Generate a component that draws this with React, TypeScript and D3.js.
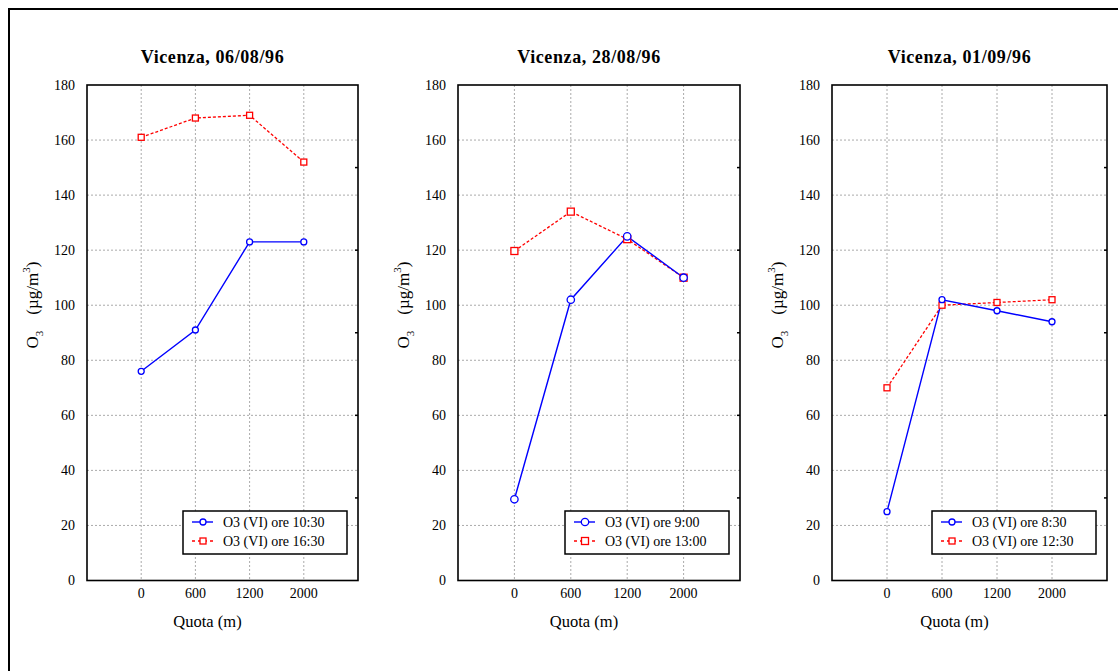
import React from 'react';
import * as d3 from 'd3';

// quote altimetriche (m) - categorie sull'asse x
const quote = ['0', '600', '1200', '2000'];
const yTicks = [0, 20, 40, 60, 80, 100, 120, 140, 160, 180];
const rightTicks = [30, 60, 90, 120, 150];

// O3 (µg/m3) per giornata
const titles = ['Vicenza, 06/08/96', 'Vicenza, 28/08/96', 'Vicenza, 01/09/96'];
const bluLabels = ['O3 (VI) ore 10:30', 'O3 (VI) ore 9:00', 'O3 (VI) ore 8:30'];
const rossoLabels = ['O3 (VI) ore 16:30', 'O3 (VI) ore 13:00', 'O3 (VI) ore 12:30'];
const blu0608 = [76, 91, 123, 123];
const rosso0608 = [161, 168, 169, 152];
const blu2808 = [29.5, 102, 125, 110];
const rosso2808 = [119.7, 134, 124, 110];
const blu0109 = [25, 102, 98, 94];
const rosso0109 = [70, 100, 101, 102];

const font = '"Liberation Serif", "Times New Roman", serif';
const BLUE = '#0000ff';
const RED = '#ff0000';

type PanelProps = {
  left: number; right: number; top: number; bottom: number;
  title: string; blu: number[]; rosso: number[];
  bluLabel: string; rossoLabel: string; r: number; sq: number;
};

const Panel = (props: PanelProps) => {
  const { left, right, top, bottom, title, blu, rosso, bluLabel, rossoLabel, r, sq } = props;
  const x = d3.scaleLinear().domain([0, 5]).range([left, right]);
  const y = d3.scaleLinear().domain([0, 180]).range([bottom, top]);
  const line = d3.line<number>()
    .x((d, i) => x(i + 1))
    .y(d => y(d));
  const cx = (left + right) / 2;
  const lgW = 164, lgH = 43;
  const lgX = right - 11 - lgW;
  const lgY = 511;

  const square = (px: number, py: number, key: any) => (
    <rect key={key} x={px - sq / 2} y={py - sq / 2} width={sq} height={sq}
      fill="white" stroke={RED} strokeWidth={1.3} />
  );
  const circle = (px: number, py: number, key: any) => (
    <circle key={key} cx={px} cy={py} r={r} fill="white" stroke={BLUE} strokeWidth={1.3} />
  );

  return (
    <g fontFamily={font}>
      <text x={cx - 10} y={63} textAnchor="middle" fontWeight="bold" fontSize={18} letterSpacing={0.6}>{title}</text>
      {/* griglia */}
      {yTicks.slice(1, -1).map(t => (
        <line key={'gy' + t} x1={left} x2={right} y1={y(t)} y2={y(t)}
          stroke="#aaa" strokeWidth={1} strokeDasharray="2,2" />
      ))}
      {quote.map((q, i) => (
        <line key={'gx' + q} x1={x(i + 1)} x2={x(i + 1)} y1={top} y2={bottom}
          stroke="#aaa" strokeWidth={1} strokeDasharray="2,2" />
      ))}
      {rightTicks.map(t => (
        <line key={'rt' + t} x1={right - 3} x2={right} y1={y(t)} y2={y(t)} stroke="black" strokeWidth={1.5} />
      ))}
      <rect x={left} y={top} width={right - left} height={bottom - top}
        fill="none" stroke="black" strokeWidth={1.6} />
      {yTicks.map(t => (
        <text key={'yl' + t} x={left - 12} y={y(t)} dy="0.35em" textAnchor="end" fontSize={14}>{t}</text>
      ))}
      {quote.map((q, i) => (
        <text key={'xl' + q} x={x(i + 1)} y={bottom + 17} textAnchor="middle" fontSize={14}>{q}</text>
      ))}
      <text x={cx - 15} y={627} textAnchor="middle" fontSize={16.5}>Quota (m)</text>
      <text transform={`translate(${left - 49},305) rotate(-90)`} textAnchor="middle" fontSize={17}>
        O<tspan fontSize={11} dy={5}>3</tspan>
        <tspan dy={-5} dx={16}>(µg/m</tspan>
        <tspan fontSize={11} dy={-8}>3</tspan>
        <tspan dy={8}>)</tspan>
      </text>
      {/* serie */}
      <path d={line(rosso) || ''} fill="none" stroke={RED} strokeWidth={1.3} strokeDasharray="3,2" />
      <path d={line(blu) || ''} fill="none" stroke={BLUE} strokeWidth={1.4} />
      {rosso.map((v, i) => square(x(i + 1), y(v), 's' + i))}
      {blu.map((v, i) => circle(x(i + 1), y(v), 'c' + i))}
      {/* legenda */}
      <rect x={lgX} y={lgY} width={lgW} height={lgH} fill="white" stroke="black" strokeWidth={1.5} />
      <line x1={lgX + 9} x2={lgX + 30} y1={lgY + 11} y2={lgY + 11} stroke={BLUE} strokeWidth={1.4} />
      {circle(lgX + 20, lgY + 11, 'lc')}
      <text x={lgX + 40} y={lgY + 11} dy="0.35em" fontSize={14}>{bluLabel}</text>
      <line x1={lgX + 9} x2={lgX + 30} y1={lgY + 30} y2={lgY + 30} stroke={RED} strokeWidth={1.3} strokeDasharray="3,3" />
      {square(lgX + 20, lgY + 30, 'ls')}
      <text x={lgX + 40} y={lgY + 30} dy="0.35em" fontSize={14}>{rossoLabel}</text>
    </g>
  );
};

const panels = [
  { left: 87, right: 358, blu: blu0608, rosso: rosso0608, r: 3, sq: 6 },
  { left: 458, right: 740, blu: blu2808, rosso: rosso2808, r: 3.7, sq: 7 },
  { left: 832, right: 1107, blu: blu0109, rosso: rosso0109, r: 3, sq: 6 },
];

export default function App() {
  return (
    <svg width={1118} height={671} style={{ position: 'absolute', left: 0, top: 0, background: 'white' }}>
      <rect x={0} y={0} width={1118} height={671} fill="white" />
      <rect x={9} y={9} width={1300} height={1000} fill="none" stroke="black" strokeWidth={2} />
      {panels.map((p, i) => (
        <Panel key={i} left={p.left} right={p.right} top={85} bottom={580.5}
          title={titles[i]} blu={p.blu} rosso={p.rosso}
          bluLabel={bluLabels[i]} rossoLabel={rossoLabels[i]} r={p.r} sq={p.sq} />
      ))}
    </svg>
  );
}
